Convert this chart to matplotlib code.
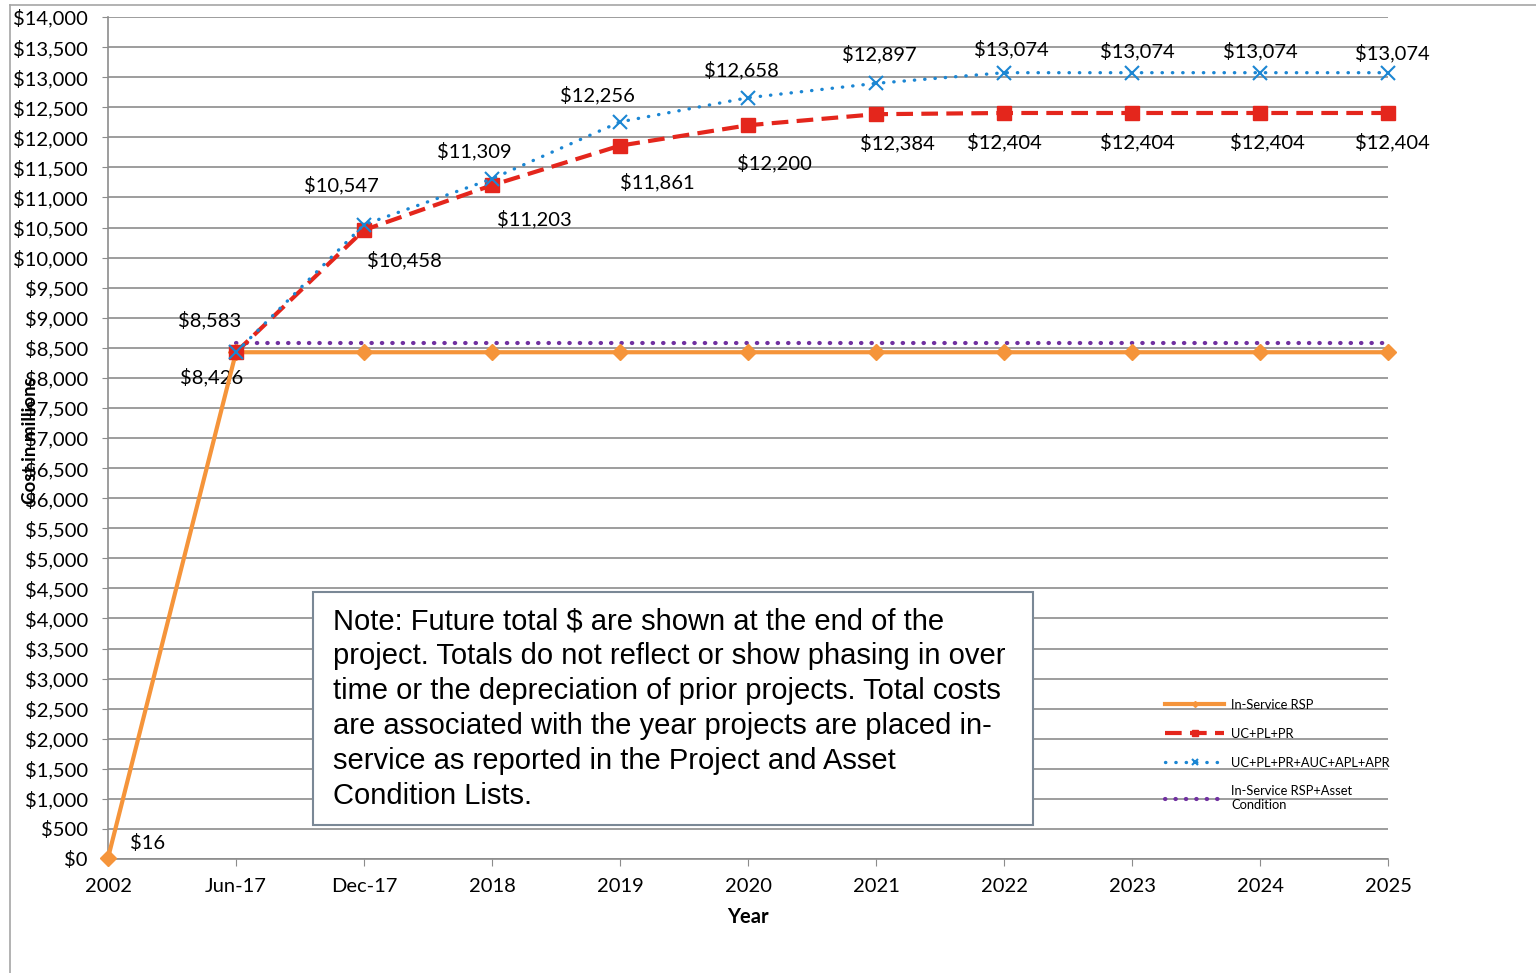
import matplotlib
matplotlib.use("Agg")
import matplotlib.pyplot as plt
from matplotlib.patches import Rectangle
from matplotlib.lines import Line2D
from matplotlib.ticker import FuncFormatter, MultipleLocator

# chart data
periods = ["2002", "Jun-17", "Dec-17", "2018", "2019", "2020", "2021", "2022", "2023", "2024", "2025"]
in_service = [16, 8426, 8426, 8426, 8426, 8426, 8426, 8426, 8426, 8426, 8426]
uc_pl_pr = [None, 8426, 10458, 11203, 11861, 12200, 12384, 12404, 12404, 12404, 12404]
uc_all = [None, 8426, 10547, 11309, 12256, 12658, 12897, 13074, 13074, 13074, 13074]
in_service_cond = [None, 8583, 8583, 8583, 8583, 8583, 8583, 8583, 8583, 8583, 8583]

note = ("Note: Future total $ are shown at the end of the\n"
        "project. Totals do not reflect or show phasing in over\n"
        "time or the depreciation of prior projects. Total costs\n"
        "are associated with the year projects are placed in-\n"
        "service as reported in the Project and Asset\n"
        "Condition Lists.")

ORANGE = "#F5943A"
RED = "#E4261C"
BLUE = "#1B86D3"
PURPLE = "#7030A0"
GRID = "#8C8C8C"

RED_DASH = (0, (4, 2))
BLUE_DOT = (0, (0.1, 3.0))
PURPLE_DOT = (0, (0.1, 2.4))

plt.rcParams["font.family"] = ["Lato", "DejaVu Sans"]

W, H = 1536, 973
fig = plt.figure(figsize=(W / 100, H / 100), dpi=100)
ax = fig.add_axes([108 / W, 1 - 859 / H, (1388 - 108) / W, (859 - 17) / H])

x = list(range(len(periods)))


def pts(vals):
    xs = [i for i, v in zip(x, vals) if v is not None]
    ys = [v for v in vals if v is not None]
    return xs, ys


ax.plot(*pts(in_service_cond), color=PURPLE, lw=3, ls=PURPLE_DOT, dash_capstyle="round",
        zorder=3, clip_on=False)
ax.plot(*pts(in_service), color=ORANGE, lw=3, marker="D", ms=8, zorder=4, clip_on=False)
ax.plot(*pts(uc_pl_pr), color=RED, lw=3, ls=RED_DASH, marker="s", ms=10, zorder=5, clip_on=False)
ax.plot(*pts(uc_all), color=BLUE, lw=2.4, ls=BLUE_DOT, dash_capstyle="round",
        marker="x", ms=10, mew=1.5, zorder=6, clip_on=False)

ax.set_xlim(0, 10)
ax.set_ylim(0, 14000)
ax.set_xticks(x)
ax.set_xticklabels(periods)
ax.yaxis.set_major_locator(MultipleLocator(500))
ax.yaxis.set_major_formatter(FuncFormatter(lambda v, p: "${:,.0f}".format(v)))
ax.grid(axis="y", color=GRID, lw=1.2)
ax.set_axisbelow(True)
for s in ["top", "right"]:
    ax.spines[s].set_visible(False)
ax.spines["left"].set_color(GRID)
ax.spines["bottom"].set_color(GRID)
ax.spines["left"].set_linewidth(1.2)
ax.spines["bottom"].set_linewidth(1.2)
ax.tick_params(axis="y", length=4, color=GRID, pad=10.5, labelsize=14.5)
ax.tick_params(axis="x", length=5, color=GRID, pad=8.5, labelsize=14.5)

ax.set_xlabel("Year", fontsize=14.5, fontweight="bold", labelpad=9)
fig.text(30 / W, 1 - 441 / H, "Cost in millions", rotation=90, fontsize=13.5,
         fontweight="bold", ha="center", va="center")

# data labels (offsets in pixels from each point)
lab_kw = dict(textcoords="offset pixels", ha="center", va="center", fontsize=14.5)
ax.annotate("${:,}".format(in_service[0]), (0, in_service[0]), xytext=(40, 15), **lab_kw)
ax.annotate("${:,}".format(in_service[1]), (1, in_service[1]), xytext=(-24, -25), **lab_kw)
ax.annotate("${:,}".format(in_service_cond[1]), (1, in_service_cond[1]), xytext=(-26, 23), **lab_kw)

blue_off = [None, None, (-23, 40), (-18, 28), (-23, 27), (-7, 28), (3, 29), (7, 24), (5, 22), (0, 22), (4, 20)]
red_off = [None, None, (40, -30), (42, -34), (37, -36), (26, -38), (21, -29), (0, -29), (5, -29), (7, -29), (4, -29)]
for i in x:
    if blue_off[i] is not None:
        ax.annotate("${:,}".format(uc_all[i]), (i, uc_all[i]), xytext=blue_off[i], **lab_kw)
    if red_off[i] is not None:
        ax.annotate("${:,}".format(uc_pl_pr[i]), (i, uc_pl_pr[i]), xytext=red_off[i], **lab_kw)

# note box
fig.patches.append(Rectangle((313 / W, 1 - 825 / H), (1033 - 313) / W, (825 - 592) / H,
                             transform=fig.transFigure, facecolor="white",
                             edgecolor="#7A8896", lw=1.5, zorder=10))
fig.text(333 / W, 1 - 607 / H, note, family=["Liberation Sans", "DejaVu Sans"], fontsize=21,
         linespacing=1.315, ha="left", va="top", zorder=11)

# legend
handles = [
    Line2D([], [], color=ORANGE, lw=3, marker="D", ms=3),
    Line2D([], [], color=RED, lw=3, ls=RED_DASH, marker="s", ms=5),
    Line2D([], [], color=BLUE, lw=2.4, ls=BLUE_DOT, dash_capstyle="round", marker="x", ms=5, mew=1.5),
    Line2D([], [], color=PURPLE, lw=3, ls=PURPLE_DOT, dash_capstyle="round"),
]
names = ["In-Service RSP", "UC+PL+PR", "UC+PL+PR+AUC+APL+APR", "In-Service RSP+Asset\nCondition"]
fig.legend(handles, names, loc="upper left", bbox_to_anchor=(1165 / W, 1 - 699 / H),
           frameon=False, fontsize=9.3, handlelength=4.6, handletextpad=0.5,
           labelspacing=1.3, borderpad=0, borderaxespad=0)

# outer chart frame
fig.add_artist(Line2D([10 / W, 10 / W], [0, 1 - 5 / H], transform=fig.transFigure, color="#A6A6A6", lw=1.2))
fig.add_artist(Line2D([10 / W, 1], [1 - 5 / H, 1 - 5 / H], transform=fig.transFigure, color="#A6A6A6", lw=1.2))

fig.savefig("out.png", dpi=100)
